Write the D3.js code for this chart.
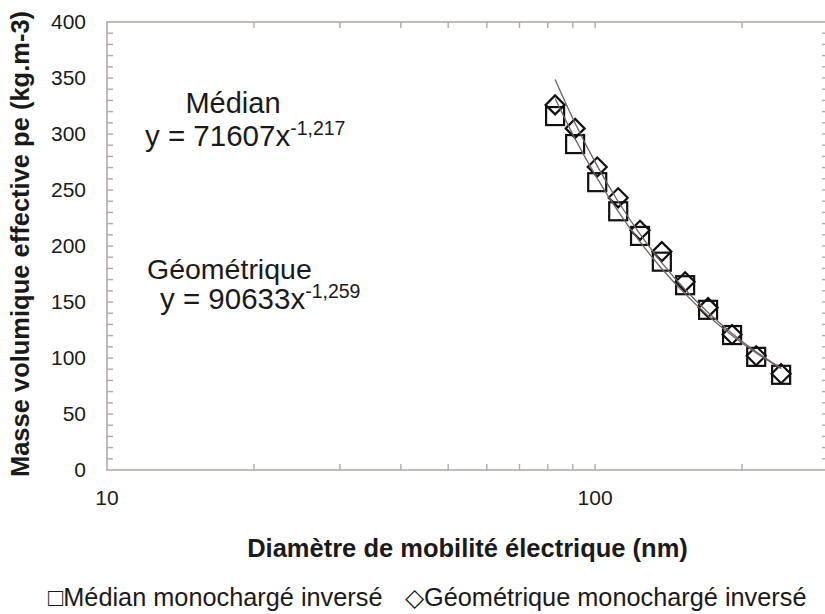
<!DOCTYPE html>
<html><head><meta charset="utf-8">
<script src="https://cdn.jsdelivr.net/npm/d3@7"></script>
<style>body{margin:0;background:#fff}svg{display:block}</style></head>
<body>
<script>
// ---- data ----
const diameters = [82.8, 91.0, 101, 111.5, 123.6, 137, 152.9, 170.4, 190.8, 213.8, 240.5];
const medianDensity = [316, 291, 257, 231, 209, 186, 165, 143, 120.5, 101, 85];
const geometricDensity = [326, 305, 270.5, 243, 214, 195, 168, 145, 121, 102, 86];
const yTickValues = [0, 50, 100, 150, 200, 250, 300, 350, 400];
const xTickLabels = [10, 100];
const fitNames = ["Médian", "Géométrique"];
const fitCoefs = [71607, 90633];
const fitExponents = [-1.217, -1.259];
const fitExponentLabels = ["-1,217", "-1,259"];
const legendLabels = ["□Médian monochargé inversé", "◇Géométrique monochargé inversé"];

const W = 825, H = 614;
const svg = d3.select("body").append("svg").attr("width", W).attr("height", H);
const font = "Liberation Sans, Arial, sans-serif";
const ink = "#1a1a1a";

const x = d3.scaleLog().domain([10, 300]).range([107, 828]);
const y = d3.scaleLinear().domain([0, 400]).range([470, 22]);
const axisColor = "#b3aaa6";

// plot frame
svg.append("rect").attr("x", x(10)).attr("y", y(400))
  .attr("width", x(300) - x(10)).attr("height", y(0) - y(400))
  .attr("fill", "none").attr("stroke", axisColor).attr("stroke-width", 1.6);

// minor ticks
const yMinor = d3.range(10, 400, 10);
const xMinor = [20,30,40,50,60,70,80,90,100,200];
const tickG = svg.append("g").attr("stroke", axisColor).attr("stroke-width", 1.4);
yMinor.forEach(v => {
  tickG.append("line").attr("x1", x(10)).attr("x2", x(10) + 6).attr("y1", y(v)).attr("y2", y(v));
  tickG.append("line").attr("x1", x(300)).attr("x2", x(300) - 6).attr("y1", y(v)).attr("y2", y(v));
});
xMinor.forEach(v => {
  tickG.append("line").attr("x1", x(v)).attr("x2", x(v)).attr("y1", y(0)).attr("y2", y(0) - 6);
  tickG.append("line").attr("x1", x(v)).attr("x2", x(v)).attr("y1", y(400)).attr("y2", y(400) + 6);
});

// tick labels
svg.append("g").selectAll("text").data(yTickValues).join("text")
  .attr("x", 86).attr("y", d => y(d)).attr("dy", "0.35em")
  .attr("text-anchor", "end").attr("font-family", font).attr("font-size", 21)
  .attr("fill", ink).text(d => d);
svg.append("g").selectAll("text").data(xTickLabels).join("text")
  .attr("x", d => x(d)).attr("y", 498).attr("dy", "0.35em")
  .attr("text-anchor", "middle").attr("font-family", font).attr("font-size", 21)
  .attr("fill", ink).text(d => d);

// axis titles
svg.append("text").attr("x", (x(10) + x(300)) / 2).attr("y", 557).attr("text-anchor", "middle")
  .attr("font-family", font).attr("font-size", 25.5).attr("font-weight", "bold")
  .attr("fill", ink).text("Diamètre de mobilité électrique (nm)");
svg.append("text").attr("transform", `translate(29,244) rotate(-90)`)
  .attr("text-anchor", "middle").attr("font-family", font).attr("font-size", 25.5)
  .attr("font-weight", "bold").attr("fill", ink)
  .text("Masse volumique effective pe (kg.m-3)");

// markers
const pts = diameters.map((d, i) => ({d, m: medianDensity[i], g: geometricDensity[i]}));
const s = 18;
svg.append("g").selectAll("rect").data(pts).join("rect")
  .attr("x", p => x(p.d) - s/2).attr("y", p => y(p.m) - s/2)
  .attr("width", s).attr("height", s)
  .attr("fill", "none").attr("stroke", "#111").attr("stroke-width", 2.2);
svg.append("g").selectAll("path").data(pts).join("path")
  .attr("d", p => {
    const cx = x(p.d), cy = y(p.g), r = 9.5;
    return `M${cx},${cy-r}L${cx+r},${cy}L${cx},${cy+r}L${cx-r},${cy}Z`;
  })
  .attr("fill", "none").attr("stroke", "#111").attr("stroke-width", 2.2);

// trend lines (from printed equations)
const line = d3.line().x(p => x(p[0])).y(p => y(p[1])).curve(d3.curveMonotoneX);
fitCoefs.forEach((a, k) => {
  const samples = diameters.map(d => [d, a * Math.pow(d, fitExponents[k])]);
  svg.append("path").attr("d", line(samples)).attr("fill", "none")
    .attr("stroke", "#6e6460").attr("stroke-width", 1.3);
});

// annotations
function equation(xPos, yPos, k) {
  const t = svg.append("text").attr("x", xPos).attr("y", yPos)
    .attr("font-family", font).attr("font-size", 29.5).attr("fill", ink);
  t.append("tspan").text(`y = ${fitCoefs[k]}x`);
  t.append("tspan").attr("font-size", 19.5).attr("dy", -11).text(fitExponentLabels[k]);
}
svg.append("text").attr("x", 233).attr("y", 113).attr("text-anchor", "middle")
  .attr("font-family", font).attr("font-size", 29).attr("fill", ink).text(fitNames[0]);
equation(145, 146, 0);
svg.append("text").attr("x", 147).attr("y", 279)
  .attr("font-family", font).attr("font-size", 28.5).attr("fill", ink).text(fitNames[1]);
equation(160, 309, 1);

// legend
svg.append("text").attr("x", 48).attr("y", 606).attr("font-family", font)
  .attr("font-size", 25.3).attr("fill", ink).text(legendLabels[0]);
svg.append("text").attr("x", 405).attr("y", 606).attr("font-family", font)
  .attr("font-size", 25.3).attr("fill", ink).text(legendLabels[1]);
</script>
</body></html>
